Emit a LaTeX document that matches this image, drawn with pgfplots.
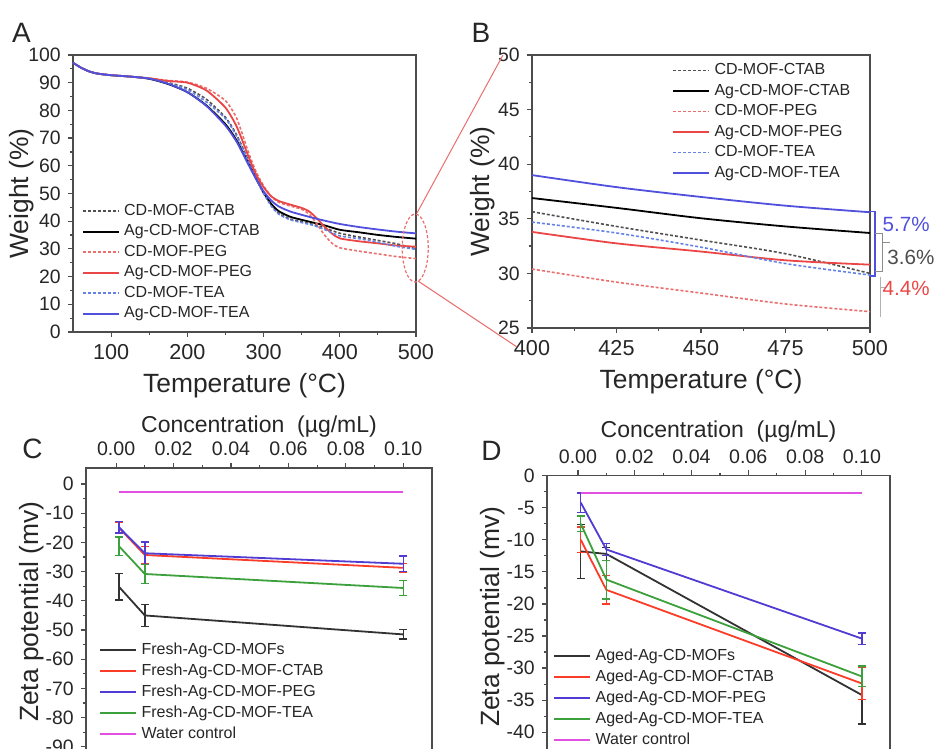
\documentclass[border=0pt]{standalone}
\usepackage{fontspec}
\setmainfont{Liberation Sans}
\usepackage{pgfplots}
\pgfplotsset{compat=1.18}
\definecolor{cblue}{RGB}{80,80,220}
\definecolor{cblued}{RGB}{100,130,230}
\definecolor{cred}{RGB}{235,70,70}
\definecolor{credd}{RGB}{235,110,110}
\definecolor{cgray}{RGB}{80,80,80}
\definecolor{zred}{RGB}{250,60,40}
\definecolor{zblue}{RGB}{80,60,210}
\definecolor{zgreen}{RGB}{60,160,60}
\definecolor{zmag}{RGB}{225,80,225}
\definecolor{zblack}{RGB}{50,50,50}
\pgfplotsset{
  base/.style={scale only axis, clip=false,
    axis line style={draw=black!70, line width=0.7pt},
    tick style={draw=black!70, line width=0.6pt},
    major tick length=2.6pt, minor tick length=1.5pt, tick align=outside,
    /pgf/number format/assume math mode=true,
    xticklabel style={font=\fontsize{10.8}{12}\selectfont, text=black!85},
    yticklabel style={font=\fontsize{9.7}{12}\selectfont, text=black!85},
    label style={font=\fontsize{13.2}{15}\selectfont, text=black!85},
    legend cell align=left,
    legend style={draw=none, fill=none, inner sep=0pt, font=\fontsize{8}{9.6}\selectfont,
      nodes={inner sep=0.6pt, text height=6pt, text depth=1.8pt, text=black!85}, row sep=1.25pt,
      /tikz/every odd column/.append style={column sep=1.6pt}},
    legend image code/.code={\draw[#1] (0pt,0pt) -- (18pt,0pt);},
  },
  dsh/.style={line width=0.8pt, dash pattern=on 1.5pt off 1pt},
  sol/.style={line width=0.9pt},
  eb/.style={line width=0.9pt, error bars/.cd, y dir=both, y explicit,
    error bar style={line width=0.7pt}, error mark options={rotate=90, mark size=2pt, line width=0.7pt}},
}
\begin{document}
\begin{tikzpicture}
% ---------- A ----------
\begin{axis}[base, at={(36.5pt,208.5pt)}, anchor=south west, width=171.5pt, height=138.5pt,
  xmin=50, xmax=500, ymin=0, ymax=100, xtick={100,200,300,400,500}, ytick={0,10,...,100},
  minor x tick num=1, minor y tick num=1, tick pos=left,
  xlabel={Temperature (°C)}, ylabel={Weight (\%)},
  ylabel style={at={(axis description cs:-0.150,0.5)}, anchor=center},
  legend style={at={(0.025,0.47)}, anchor=north west}]
\addplot[cgray, dsh, smooth, tension=0.4] coordinates {(50,97.2)(60,95.5)(70,94.2)(80,93.4)(90,93.0)(100,92.7)(125,92.2)(150,91.5)(175,90.0)(200,88.0)(225,84.0)(250,77.5)(265,71.0)(280,62.0)(290,56.0)(300,50.5)(310,45.8)(320,42.8)(335,40.8)(350,39.8)(365,38.8)(380,37.6)(400,35.65)(425,34.3)(450,33.05)(475,31.8)(500,30.0)};
\addlegendentry{CD-MOF-CTAB}
\addplot[black, sol, smooth, tension=0.4] coordinates {(50,97.2)(60,95.5)(70,94.2)(80,93.4)(90,93.0)(100,92.7)(125,92.2)(150,91.4)(175,89.5)(200,86.6)(225,81.8)(250,75.0)(265,69.0)(280,61.0)(290,55.5)(300,50.3)(310,46.3)(320,43.6)(335,41.6)(350,40.5)(365,39.5)(380,38.5)(400,36.9)(425,36.0)(450,35.05)(475,34.3)(500,33.7)};
\addlegendentry{Ag-CD-MOF-CTAB}
\addplot[credd, dsh, smooth, tension=0.4] coordinates {(50,97.2)(60,95.5)(70,94.2)(80,93.4)(90,93.0)(100,92.7)(125,92.2)(150,91.6)(175,90.8)(200,90.2)(225,88.0)(250,83.5)(265,77.0)(280,65.0)(290,58.0)(300,52.8)(310,49.0)(320,46.8)(335,45.5)(350,44.3)(360,42.5)(370,39.0)(380,35.0)(390,32.0)(400,30.4)(425,29.2)(450,28.2)(475,27.2)(500,26.5)};
\addlegendentry{CD-MOF-PEG}
\addplot[cred, sol, smooth, tension=0.4] coordinates {(50,97.2)(60,95.5)(70,94.2)(80,93.4)(90,93.0)(100,92.7)(125,92.2)(150,91.6)(175,90.6)(200,90.0)(225,87.2)(250,81.0)(265,74.0)(280,63.5)(290,57.0)(300,52.3)(310,49.0)(320,47.3)(335,46.0)(350,44.8)(360,43.5)(370,41.0)(380,38.0)(390,35.5)(400,33.8)(425,32.75)(450,32.0)(475,31.2)(500,30.8)};
\addlegendentry{Ag-CD-MOF-PEG}
\addplot[cblued, dsh, smooth, tension=0.4] coordinates {(50,97.2)(60,95.5)(70,94.2)(80,93.4)(90,93.0)(100,92.7)(125,92.2)(150,91.5)(175,89.8)(200,87.5)(225,83.0)(250,77.0)(265,70.5)(280,61.5)(290,55.5)(300,50.0)(310,45.5)(320,42.5)(335,40.5)(350,39.5)(365,38.5)(380,37.0)(400,34.7)(425,33.7)(450,32.4)(475,30.9)(500,29.85)};
\addlegendentry{CD-MOF-TEA}
\addplot[cblue, sol, smooth, tension=0.4] coordinates {(50,97.2)(60,95.5)(70,94.2)(80,93.4)(90,93.0)(100,92.7)(125,92.2)(150,91.5)(175,89.6)(200,86.6)(225,81.6)(250,74.5)(265,68.5)(280,60.5)(290,55.3)(300,50.8)(310,47.5)(320,45.3)(335,43.5)(350,42.3)(365,41.2)(380,40.2)(400,39.0)(425,37.9)(450,37.0)(475,36.2)(500,35.6)};
\addlegendentry{Ag-CD-MOF-TEA}
\draw[credd, line width=0.6pt, dash pattern=on 1.5pt off 1pt] (axis cs:499,30.3) ellipse [x radius=6.5pt, y radius=17pt];
\end{axis}
% ---------- B ----------
\begin{axis}[base, at={(266pt,210.5pt)}, anchor=south west, width=169pt, height=136.5pt,
  xmin=400, xmax=500, ymin=25, ymax=50, xtick={400,425,450,475,500}, ytick={25,30,...,50},
  minor x tick num=1, minor y tick num=1, tick pos=left,
  xlabel={Temperature (°C)}, ylabel={Weight (\%)},
  ylabel style={at={(axis description cs:-0.146,0.5)}, anchor=center},
  legend style={at={(0.414,0.978)}, anchor=north west}]
\addplot[cgray, dsh, smooth] coordinates {(400,35.65)(425,34.3)(450,33.05)(475,31.8)(500,30.0)};
\addlegendentry{CD-MOF-CTAB}
\addplot[black, sol, smooth] coordinates {(400,36.9)(425,36.0)(450,35.05)(475,34.3)(500,33.7)};
\addlegendentry{Ag-CD-MOF-CTAB}
\addplot[credd, dsh, smooth] coordinates {(400,30.4)(425,29.2)(450,28.2)(475,27.2)(500,26.5)};
\addlegendentry{CD-MOF-PEG}
\addplot[cred, sol, smooth] coordinates {(400,33.8)(425,32.75)(450,32.0)(475,31.2)(500,30.8)};
\addlegendentry{Ag-CD-MOF-PEG}
\addplot[cblued, dsh, smooth] coordinates {(400,34.7)(425,33.7)(450,32.4)(475,30.9)(500,29.85)};
\addlegendentry{CD-MOF-TEA}
\addplot[cblue, sol, smooth] coordinates {(400,39.0)(425,37.9)(450,37.0)(475,36.2)(500,35.6)};
\addlegendentry{Ag-CD-MOF-TEA}
\draw[cblue, line width=0.6pt] (axis cs:500,35.65) -- (axis cs:501.5,35.65) -- (axis cs:501.5,29.76) -- (axis cs:500,29.76);
\draw[black!45, line width=0.6pt] (axis cs:501.5,33.67) -- (axis cs:503.8,33.67) -- (axis cs:503.8,30.2) -- (axis cs:501.5,30.2);
\draw[black!45, line width=0.6pt] (axis cs:503.8,32.8) -- (axis cs:505.8,32.8);
\draw[black!30, line width=0.6pt] (axis cs:503,29.7) -- (axis cs:503,26.0);
\draw[black!30, line width=0.6pt] (axis cs:503,28.7) -- (axis cs:504.5,28.7);
\node[font=\fontsize{10.3}{12}\selectfont, text=cblue] at (axis cs:510.7,34.5) {5.7\%};
\node[font=\fontsize{10.3}{12}\selectfont, text=black!70] at (axis cs:512.1,31.5) {3.6\%};
\node[font=\fontsize{10.3}{12}\selectfont, text=cred] at (axis cs:510.7,28.6) {4.4\%};
\end{axis}
% ---------- C ----------
\begin{axis}[base, at={(43pt,140.5pt)}, anchor=north west, width=173pt, height=143.8pt,
  xmin=-0.0105, xmax=0.110, ymin=-93, ymax=5.5,
  xtick={0,0.02,0.04,0.06,0.08,0.10}, xticklabels={0.00,0.02,0.04,0.06,0.08,0.10},
  ytick={-90,-80,...,0}, yticklabels={-90,-80,-70,-60,-50,-40,-30,-20,-10,0},
  minor x tick num=1, minor y tick num=1,
  xtick pos=right, xticklabel pos=right, ytick pos=left,
  xticklabel style={font=\fontsize{9.8}{12}\selectfont},
  xlabel={Concentration\ \ (µg/mL)}, xlabel style={font=\fontsize{11.5}{13}\selectfont, yshift=-4.5pt},
  ylabel={Zeta potential (mv)},
  ylabel style={at={(axis description cs:-0.158,0.5)}, anchor=center},
  legend style={at={(0.0376,0.399)}, anchor=north west, row sep=1.5pt}]
\addplot[zblack, eb] coordinates {(0.001,-35.2) +- (0,4.5) (0.01,-45.0) +- (0,3.7) (0.1,-51.5) +- (0,1.6)};
\addlegendentry{Fresh-Ag-CD-MOFs}
\addplot[zred, eb] coordinates {(0.001,-15.0) +- (0,2.0) (0.01,-24.3) +- (0,3.0) (0.1,-28.7) +- (0,1.5)};
\addlegendentry{Fresh-Ag-CD-MOF-CTAB}
\addplot[zblue, eb] coordinates {(0.001,-14.8) +- (0,2.0) (0.01,-23.7) +- (0,3.8) (0.1,-27.3) +- (0,2.6)};
\addlegendentry{Fresh-Ag-CD-MOF-PEG}
\addplot[zgreen, eb] coordinates {(0.001,-21.3) +- (0,3.2) (0.01,-30.8) +- (0,3.2) (0.1,-35.6) +- (0,2.5)};
\addlegendentry{Fresh-Ag-CD-MOF-TEA}
\addplot[zmag, line width=0.9pt] coordinates {(0.001,-2.6) (0.1,-2.6)};
\addlegendentry{Water control}
\end{axis}
% ---------- D ----------
\begin{axis}[base, at={(273.5pt,136.65pt)}, anchor=north west, width=171.5pt, height=141.1pt,
  xmin=-0.0109, xmax=0.1099, ymin=-44, ymax=0,
  xtick={0,0.02,0.04,0.06,0.08,0.10}, xticklabels={0.00,0.02,0.04,0.06,0.08,0.10},
  ytick={-40,-35,...,0}, yticklabels={-40,-35,-30,-25,-20,-15,-10,-5,0},
  minor x tick num=1, minor y tick num=1,
  xtick pos=right, xticklabel pos=right, ytick pos=left,
  xticklabel style={font=\fontsize{9.8}{12}\selectfont},
  xlabel={Concentration\ \ (µg/mL)}, xlabel style={font=\fontsize{11.5}{13}\selectfont, yshift=-3pt},
  ylabel={Zeta potential (mv)},
  ylabel style={at={(axis description cs:-0.157,0.5)}, anchor=center},
  legend style={at={(0.0175,0.393)}, anchor=north west, row sep=1.5pt}]
\addplot[zblack, eb] coordinates {(0.001,-11.8) +- (0,4.2) (0.01,-12.2) +- (0,1.0) (0.1,-34.2) +- (0,4.5)};
\addlegendentry{Aged-Ag-CD-MOFs}
\addplot[zred, eb] coordinates {(0.001,-10.0) +- (0,2.0) (0.01,-17.8) +- (0,2.2) (0.1,-32.4) +- (0,2.5)};
\addlegendentry{Aged-Ag-CD-MOF-CTAB}
\addplot[zblue, eb] coordinates {(0.001,-4.2) +- (0,1.5) (0.01,-11.5) +- (0,0.9) (0.1,-25.4) +- (0,0.9)};
\addlegendentry{Aged-Ag-CD-MOF-PEG}
\addplot[zgreen, eb] coordinates {(0.001,-7.5) +- (0,1.2) (0.01,-16.2) +- (0,3.0) (0.1,-31.3) +- (0,1.6)};
\addlegendentry{Aged-Ag-CD-MOF-TEA}
\addplot[zmag, line width=0.9pt] coordinates {(0.001,-2.7) (0.1,-2.7)};
\addlegendentry{Water control}
\end{axis}
% ---------- decorations ----------
\draw[credd, line width=0.5pt] (208.5pt,268pt) -- (251.5pt,347pt);
\draw[credd, line width=0.5pt] (209pt,234pt) -- (258.5pt,201pt);
\node[font=\fontsize{14}{16}\selectfont, text=black!85] at (10.75pt,358pt) {A};
\node[font=\fontsize{14}{16}\selectfont, text=black!85] at (240.5pt,358pt) {B};
\node[font=\fontsize{14}{16}\selectfont, text=black!85] at (16.25pt,150pt) {C};
\node[font=\fontsize{14}{16}\selectfont, text=black!85] at (245.75pt,149pt) {D};
\pgfresetboundingbox
\path[use as bounding box] (0pt,0pt) rectangle (467pt,374.5pt);
\end{tikzpicture}
\end{document}
